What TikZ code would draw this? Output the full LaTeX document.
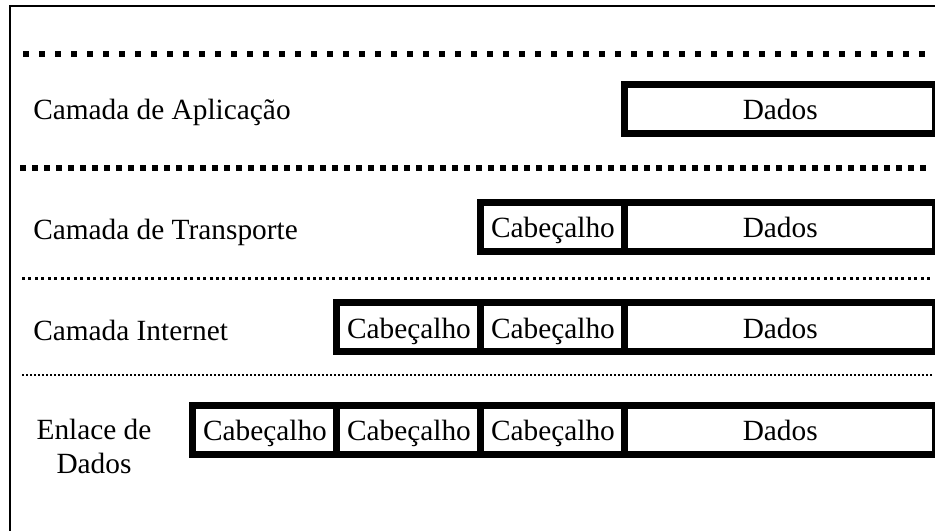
\documentclass[tikz,border=0pt]{standalone}
\usepackage{fontspec}
\setmainfont{Liberation Serif}
\usetikzlibrary{positioning}

\begin{document}
\begin{tikzpicture}[x=0.75pt, y=-0.75pt,
	every node/.style={font=\fontsize{22}{25.5}\selectfont, inner sep=0pt},
	cell/.style={draw, line width=5.25pt, outer sep=0pt, minimum height=36.75pt,
		text height=17.6pt, text depth=1.1pt},
	cab/.style={cell, minimum width=108pt},
	dados/.style={cell, minimum width=232.9pt}]
	\useasboundingbox (0,0) rectangle (935,531);
	\clip (0,0) rectangle (935,531);

	% outer frame
	\draw[line width=1.8pt] (10,545) -- (10,6) -- (945,6);

	% layer separators
	\draw[line width=4.5pt, dash pattern=on 4.5pt off 7.5pt] (23,54.5) -- (930,54.5);
	\draw[line width=4.1pt, dash pattern=on 4.5pt off 4.5pt] (20,168) -- (928,168);
	\draw[line width=2.25pt, dash pattern=on 2.25pt off 2.6pt] (22,278) -- (932,278);
	\draw[line width=1.5pt, dash pattern=on 1.5pt off 1.5pt] (22,375) -- (932,375);

	% layer names
	\node[anchor=base west] (la) at (33,120) {Camada de Aplicação};
	\node[anchor=base west] (lt) at (33,239) {Camada de Transporte};
	\node[anchor=base west] (li) at (33,340) {Camada Internet};
	\node[anchor=north, align=center] (le) at (94,419) {Enlace de\\Dados};

	% application
	\node[dados] (a1) at (780.25,109) {Dados};

	% transport
	\node[dados] (t1) at (780.25,227) {Dados};
	\node[cab, left=0pt of t1] (t2) {Cabeçalho};

	% internet
	\node[dados] (i1) at (780.25,327) {Dados};
	\node[cab, left=0pt of i1] (i2) {Cabeçalho};
	\node[cab, left=0pt of i2] (i3) {Cabeçalho};

	% data link
	\node[dados] (e1) at (780.25,429.5) {Dados};
	\node[cab, left=0pt of e1] (e2) {Cabeçalho};
	\node[cab, left=0pt of e2] (e3) {Cabeçalho};
	\node[cab, left=0pt of e3] (e4) {Cabeçalho};
\end{tikzpicture}
\end{document}
